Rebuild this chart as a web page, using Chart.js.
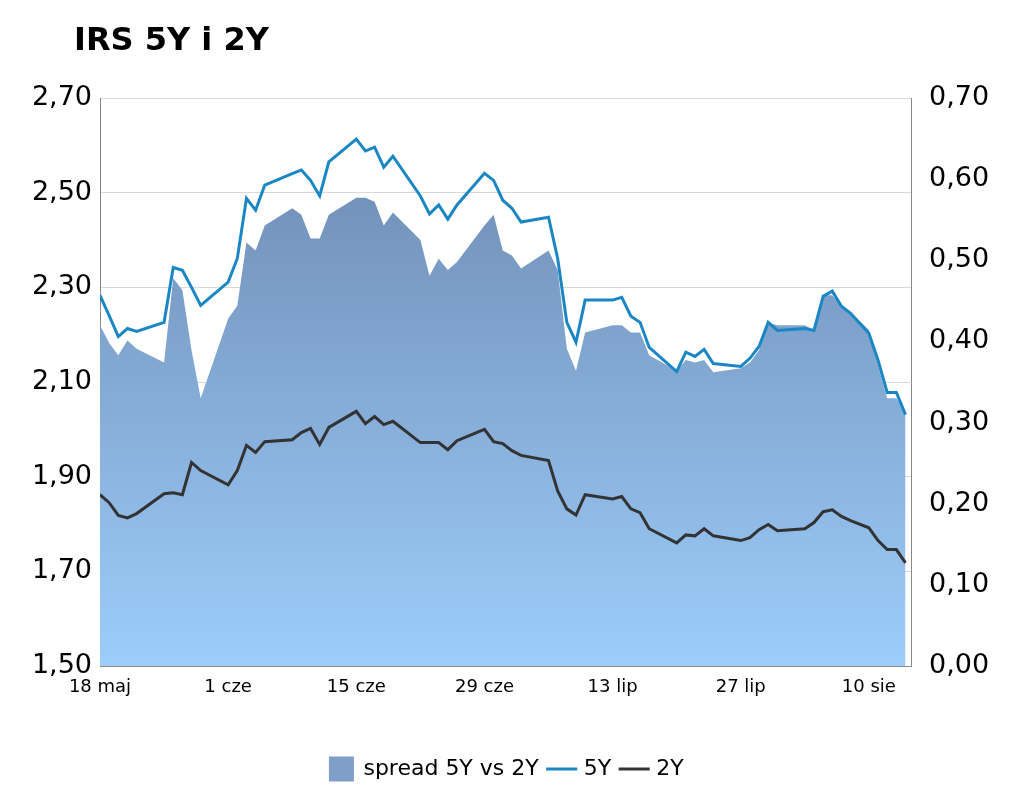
<!DOCTYPE html>
<html>
<head>
<meta charset="utf-8">
<script src="https://cdn.jsdelivr.net/npm/chart.js@4/dist/chart.umd.min.js"></script>
<style>
  html, body { margin: 0; padding: 0; background: #fff; }
  #wrap { width: 1024px; height: 795px; position: relative; }
</style>
</head>
<body>
<div id="wrap"><canvas id="chart" width="1024" height="795"></canvas></div>
<script>
// dni od 18 maja (osi X)
const days = [0,1,2,3,4,7,8,9,10,11,14,15,16,17,18,21,22,23,24,25,28,29,30,31,32,35,36,37,38,39,42,43,44,45,46,49,50,51,52,53,56,57,58,59,60,63,64,65,66,67,70,71,72,73,74,77,78,79,80,81,82,84,85,86,87,88];
const irs5y = [2.283,2.24,2.196,2.213,2.207,2.226,2.342,2.336,2.30,2.262,2.311,2.361,2.488,2.463,2.516,2.54,2.548,2.526,2.493,2.565,2.613,2.588,2.596,2.554,2.577,2.493,2.455,2.474,2.444,2.474,2.541,2.526,2.484,2.467,2.438,2.448,2.361,2.226,2.184,2.273,2.273,2.279,2.239,2.226,2.173,2.122,2.163,2.154,2.169,2.139,2.133,2.150,2.175,2.226,2.209,2.213,2.209,2.281,2.292,2.260,2.245,2.203,2.146,2.078,2.078,2.031];
const irs2y = [1.862,1.845,1.818,1.813,1.822,1.864,1.866,1.862,1.930,1.913,1.883,1.913,1.966,1.951,1.974,1.978,1.993,2.002,1.968,2.004,2.038,2.012,2.027,2.010,2.017,1.972,1.972,1.972,1.957,1.976,2.000,1.974,1.970,1.955,1.945,1.934,1.870,1.832,1.819,1.862,1.853,1.858,1.832,1.824,1.790,1.760,1.777,1.775,1.790,1.775,1.765,1.771,1.788,1.799,1.786,1.790,1.803,1.826,1.830,1.816,1.807,1.792,1.765,1.746,1.746,1.718];
const spread = [0.420,0.398,0.383,0.401,0.391,0.374,0.478,0.463,0.389,0.330,0.428,0.444,0.522,0.512,0.543,0.564,0.556,0.527,0.527,0.556,0.577,0.577,0.572,0.543,0.559,0.525,0.481,0.502,0.488,0.498,0.543,0.556,0.512,0.506,0.490,0.512,0.488,0.391,0.364,0.411,0.420,0.420,0.411,0.411,0.383,0.364,0.377,0.374,0.377,0.362,0.367,0.374,0.389,0.423,0.420,0.420,0.414,0.457,0.457,0.444,0.436,0.414,0.370,0.330,0.330,0.312];
const xTickLabels = {0: '18 maj', 14: '1 cze', 28: '15 cze', 42: '29 cze', 56: '13 lip', 70: '27 lip', 84: '10 sie'};

const pts = arr => days.map((d, i) => ({x: d, y: arr[i]}));
const fmt = v => v.toFixed(2).replace('.', ',');

// tytuł wykresu
const titlePlugin = {
  id: 'titleText',
  afterDraw(chart) {
    const c = chart.ctx;
    c.save();
    c.font = 'bold 32px "DejaVu Sans"';
    c.fillStyle = '#000';
    c.textBaseline = 'alphabetic';
    c.fillText('IRS 5Y i 2Y', 74, 50);
    c.restore();
  }
};

new Chart(document.getElementById('chart'), {
  type: 'line',
  data: {
    datasets: [
      {
        label: 'spread 5Y vs 2Y',
        data: pts(spread),
        yAxisID: 'y2',
        fill: 'origin',
        borderWidth: 0,
        pointRadius: 0,
        tension: 0,
        order: 3,
        backgroundColor: function(context) {
          const area = context.chart.chartArea;
          if (!area) return '#8fb0da';
          const g = context.chart.ctx.createLinearGradient(0, area.top, 0, area.bottom);
          g.addColorStop(0, '#6a86ad');
          g.addColorStop(1, '#9dcdfb');
          return g;
        },
        borderColor: '#6a86ad'
      },
      {
        label: '5Y',
        data: pts(irs5y),
        yAxisID: 'y',
        borderColor: '#1a87c4',
        backgroundColor: '#1a87c4',
        borderWidth: 3,
        pointRadius: 0,
        tension: 0,
        fill: false,
        order: 1
      },
      {
        label: '2Y',
        data: pts(irs2y),
        yAxisID: 'y',
        borderColor: '#333333',
        backgroundColor: '#333333',
        borderWidth: 3,
        pointRadius: 0,
        tension: 0,
        fill: false,
        order: 2
      }
    ]
  },
  options: {
    responsive: false,
    animation: false,
    layout: { padding: { top: 98, left: 0, right: 10, bottom: 5 } },
    plugins: {
      tooltip: { enabled: false },
      legend: {
        position: 'bottom',
        labels: {
          font: { family: 'DejaVu Sans', size: 22 },
          color: '#000',
          usePointStyle: true,
          padding: 12,
          generateLabels: function(chart) {
            return chart.data.datasets.map((ds, i) => ({
              text: ds.label,
              datasetIndex: i,
              fillStyle: i === 0 ? '#7f9ec8' : ds.borderColor,
              strokeStyle: i === 0 ? '#7f9ec8' : ds.borderColor,
              lineWidth: 3,
              pointStyle: i === 0 ? 'rect' : 'line',
              fontColor: '#000'
            }));
          }
        }
      }
    },
    scales: {
      x: {
        type: 'linear',
        min: 0,
        max: 88.6,
        afterFit: axis => { axis.height = 80; },
        grid: { display: false, drawTicks: true },
        border: { color: '#888' },
        ticks: {
          stepSize: 14,
          autoSkip: false,
          maxRotation: 0,
          color: '#000',
          font: { family: 'DejaVu Sans', size: 18 },
          callback: v => xTickLabels[v] || ''
        },
        afterBuildTicks: axis => { axis.ticks = Object.keys(xTickLabels).map(k => ({value: +k})); }
      },
      y: {
        position: 'left',
        min: 1.5,
        max: 2.7,
        afterFit: axis => { axis.width = 100; },
        grid: { color: '#d9d9d9', drawTicks: false },
        border: { color: '#888' },
        ticks: {
          stepSize: 0.2,
          color: '#000',
          padding: 8,
          font: { family: 'DejaVu Sans', size: 27 },
          callback: v => fmt(v)
        }
      },
      y2: {
        position: 'right',
        min: 0,
        max: 0.7,
        afterFit: axis => { axis.width = 103; },
        grid: { display: false },
        border: { color: '#888' },
        ticks: {
          stepSize: 0.1,
          color: '#000',
          padding: 10,
          font: { family: 'DejaVu Sans', size: 27 },
          callback: v => fmt(v)
        }
      }
    }
  },
  plugins: [titlePlugin]
});
</script>
</body>
</html>
